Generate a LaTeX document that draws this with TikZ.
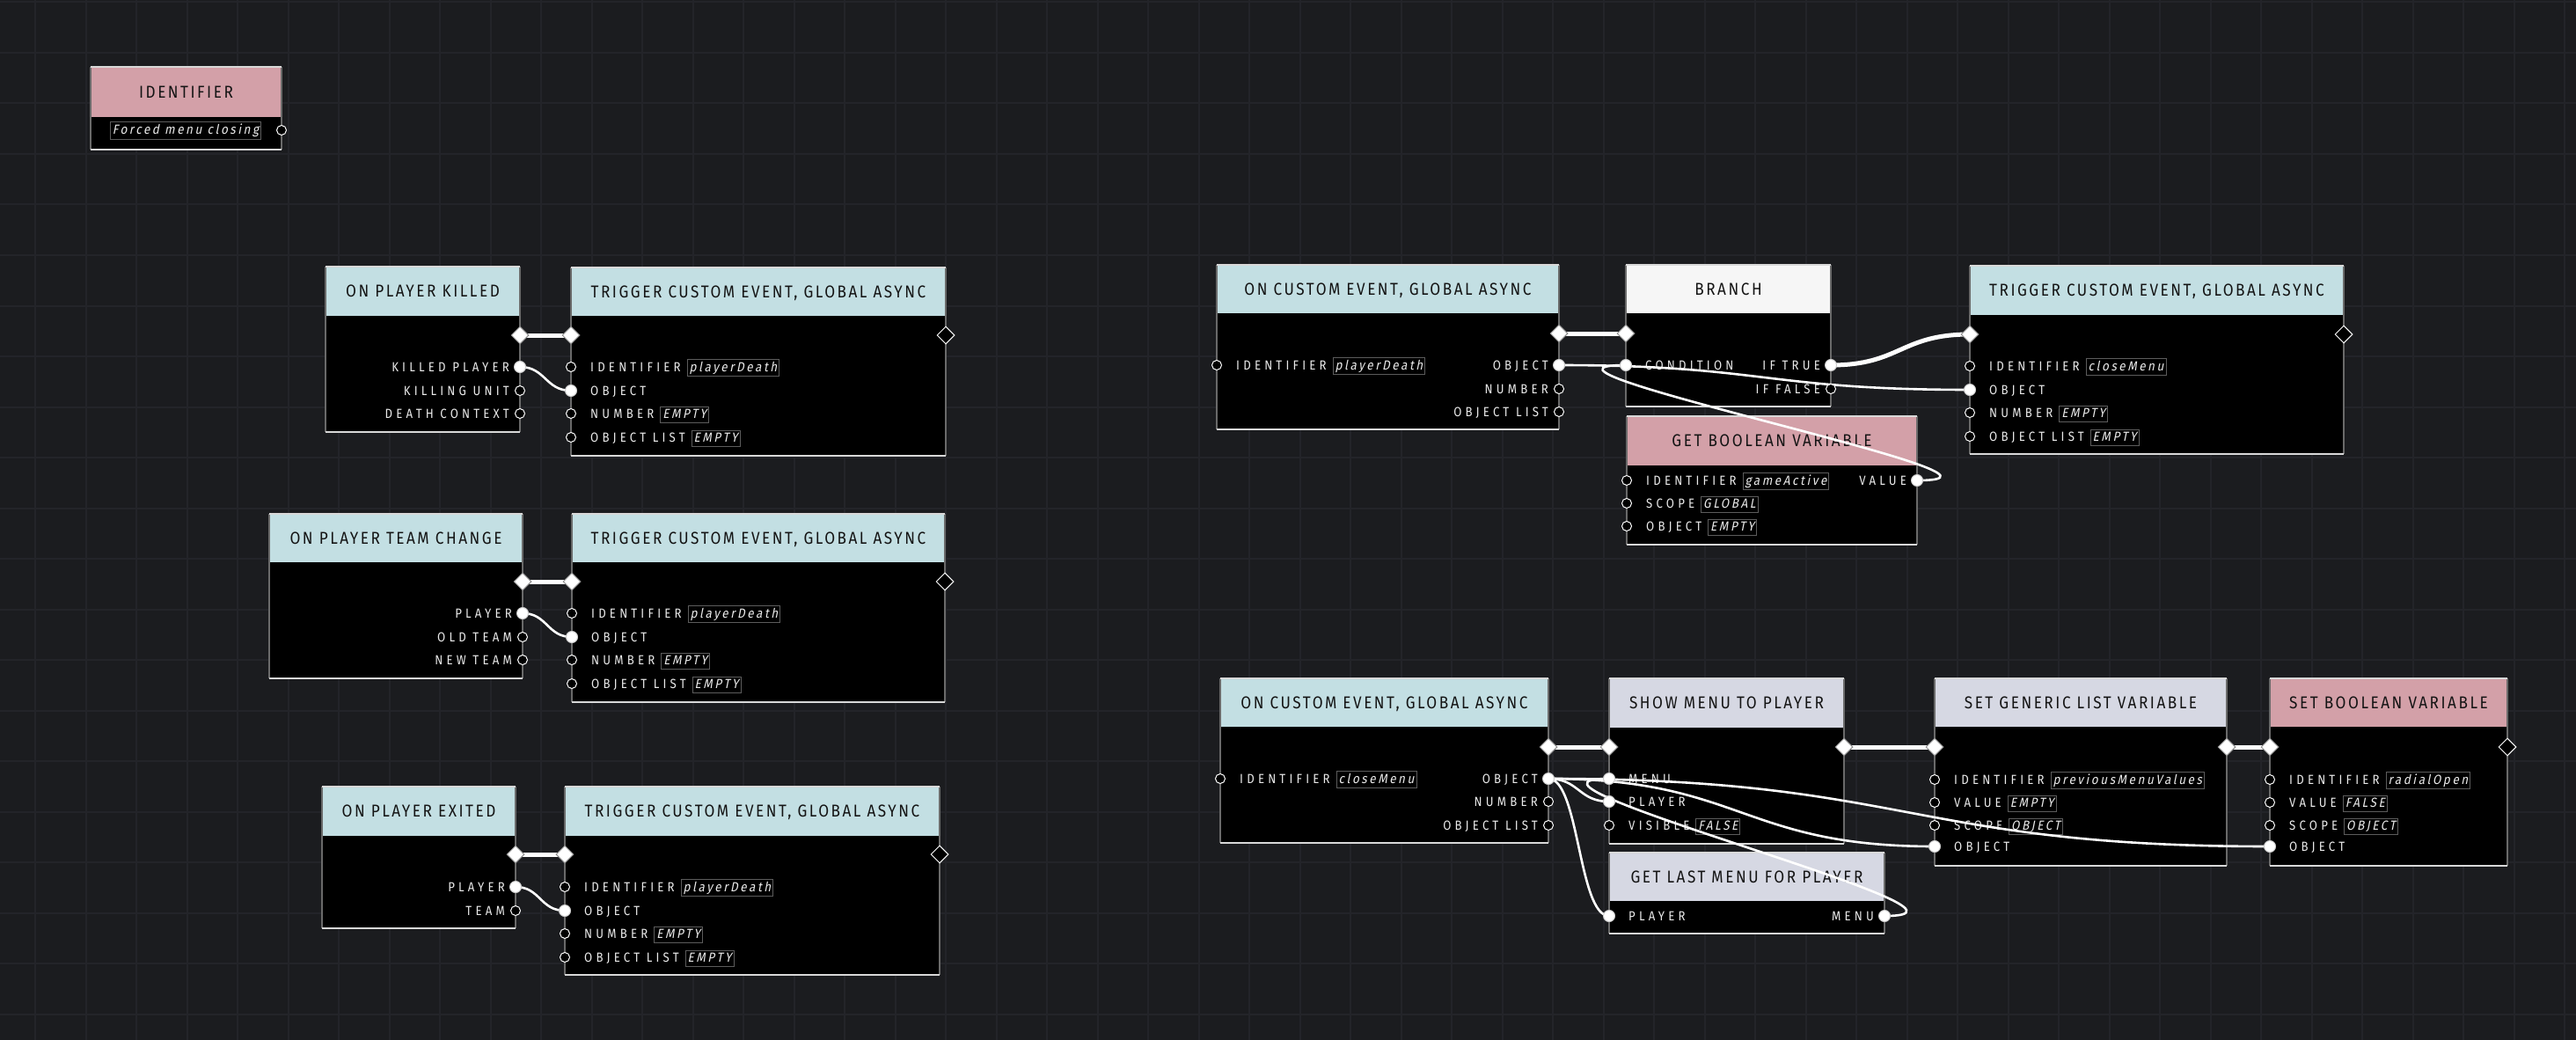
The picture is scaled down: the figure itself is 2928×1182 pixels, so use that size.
\documentclass[tikz,border=0pt]{standalone}
\usepackage{fontspec}
\usetikzlibrary{shapes.geometric}
\newfontfamily\titlefont{Fira Sans}[FakeStretch=0.88, LetterSpace=13]
\newfontfamily\labelfont{Fira Sans}[FakeStretch=0.88, LetterSpace=28]
\newfontfamily\valfont{Fira Sans}[FakeStretch=0.9, LetterSpace=17, FakeSlant=0.2]
\definecolor{bgc}{HTML}{1B1C1F}
\definecolor{gridc}{HTML}{232429}
\definecolor{blueh}{HTML}{C3DFE3}
\definecolor{pinkh}{HTML}{D3A0A8}
\definecolor{lavh}{HTML}{D6D8E3}
\definecolor{whiteh}{HTML}{F6F6F6}
\definecolor{titlec}{HTML}{141414}
\definecolor{labelc}{HTML}{EAEAEA}
\definecolor{valc}{HTML}{5C5C5C}
\definecolor{sidec}{HTML}{6A6A6A}
\definecolor{edgec}{HTML}{D8D8D8}
\pgfdeclarelayer{bg}
\pgfdeclarelayer{wires}
\pgfsetlayers{bg,wires,main}
\newcommand\valtext[1]{{\setlength\fboxsep{2pt}\setlength\fboxrule{1pt}\fcolorbox{valc}{black}{\valfont\rule[-2.5pt]{0pt}{12pt}#1}}}
\newcommand\valbx[1]{\kern7pt\valtext{#1}}
\newcommand\gbox[8]{%
  \begin{pgfonlayer}{bg}
  \fill[black] (#2,#3) rectangle (#4,#5);
  \fill[#7] (#2,#3) rectangle (#4,#6);
  \draw[sidel] (#2,#3) -- (#2,#5) (#4,#3) -- (#4,#5);
  \draw[edgel] (#2,#3) -- (#4,#3);
  \draw[edgel, line width=2pt] (#2,#5) -- (#4,#5);
  \node[titlet, anchor=base] (#1) at ({(#2+#4)/2},{(#3+#6)/2+6.8}) {#8};
  \end{pgfonlayer}}
\newcommand\pin[5]{%
  \node[#4] (#1) at (#2,#3) {};
  \begin{pgfonlayer}{bg}\node[plabel, anchor=base west] (#1-l) at ({#2+22},{#3+5.2}) {#5};\end{pgfonlayer}}
\newcommand\pout[5]{%
  \node[#4] (#1) at (#2,#3) {};
  \begin{pgfonlayer}{bg}\node[plabel, anchor=base east] (#1-l) at ({#2-12},{#3+5.2}) {#5};\end{pgfonlayer}}
\begin{document}
\begin{tikzpicture}[x=1pt,y=-1pt,
  sidel/.style={draw=sidec, line width=1.5pt},
  edgel/.style={draw=edgec, line width=1.5pt},
  titlet/.style={text=titlec, font=\titlefont\fontsize{19.5}{21}\selectfont, inner sep=0pt},
  plabel/.style={text=labelc, font=\labelfont\fontsize{15}{17}\selectfont, inner sep=0pt},
  hport/.style={circle, draw=white, line width=1pt, fill=black, minimum size=11pt, inner sep=0pt},
  fport/.style={circle, draw=white!80!black, line width=1pt, fill=white, minimum size=13pt, inner sep=0pt},
  xf/.style={diamond, aspect=1, draw=white!55!black, line width=1pt, fill=white, minimum size=20pt, inner sep=0pt},
  xh/.style={diamond, aspect=1, draw=white, line width=1pt, fill=black, minimum size=20pt, inner sep=0pt},
  dw/.style={draw=white, line width=2.6pt},
  xw/.style={draw=white, line width=5pt}]
\useasboundingbox (0,0) rectangle (2928,1182);
\begin{pgfonlayer}{bg}
\fill[bgc] (0,0) rectangle (2928,1182);
\foreach \i in {0,...,50} \draw[gridc, line width=2pt] ({40+57.5*\i},0) -- ({40+57.5*\i},1182);
\foreach \j in {0,...,20} \draw[gridc, line width=2pt] (0,{2.5+57.5*\j}) -- (2928,{2.5+57.5*\j});
\end{pgfonlayer}

% identifier
\gbox{idn}{103}{76}{320}{170}{133}{pinkh}{IDENTIFIER}
\begin{pgfonlayer}{bg}\node[plabel, anchor=base] (idn-v) at (211,153) {\valtext{Forced menu closing}};\end{pgfonlayer}
\node[hport] (idn-o) at (320,148) {};

% on player killed
\gbox{k}{370}{303}{591}{491}{359}{blueh}{ON PLAYER KILLED}
\node[xf] (k-x) at (591,381) {};
\pout{k-p1}{591}{417}{fport}{KILLED PLAYER}
\pout{k-p2}{591}{444}{hport}{KILLING UNIT}
\pout{k-p3}{591}{470}{hport}{DEATH CONTEXT}
\gbox{t1}{649}{304}{1075}{518}{359}{blueh}{TRIGGER CUSTOM EVENT, GLOBAL ASYNC}
\node[xf] (t1-x) at (649,381) {};
\node[xh] (t1-y) at (1075,381) {};
\pin{t1-p1}{649}{417}{hport}{IDENTIFIER\valbx{playerDeath}}
\pin{t1-p2}{649}{444}{fport}{OBJECT}
\pin{t1-p3}{649}{470}{hport}{NUMBER\valbx{EMPTY}}
\pin{t1-p4}{649}{497}{hport}{OBJECT LIST\valbx{EMPTY}}

% team change
\gbox{tc}{306}{584}{594}{771}{639}{blueh}{ON PLAYER TEAM CHANGE}
\node[xf] (tc-x) at (594,661) {};
\pout{tc-p1}{594}{697}{fport}{PLAYER}
\pout{tc-p2}{594}{724}{hport}{OLD TEAM}
\pout{tc-p3}{594}{750}{hport}{NEW TEAM}
\gbox{t2}{650}{584}{1074}{798}{639}{blueh}{TRIGGER CUSTOM EVENT, GLOBAL ASYNC}
\node[xf] (t2-x) at (650,661) {};
\node[xh] (t2-y) at (1074,661) {};
\pin{t2-p1}{650}{697}{hport}{IDENTIFIER\valbx{playerDeath}}
\pin{t2-p2}{650}{724}{fport}{OBJECT}
\pin{t2-p3}{650}{750}{hport}{NUMBER\valbx{EMPTY}}
\pin{t2-p4}{650}{777}{hport}{OBJECT LIST\valbx{EMPTY}}

% exited
\gbox{ex}{366}{894}{586}{1055}{950}{blueh}{ON PLAYER EXITED}
\node[xf] (ex-x) at (586,971) {};
\pout{ex-p1}{586}{1008}{fport}{PLAYER}
\pout{ex-p2}{586}{1035}{hport}{TEAM}
\gbox{t3}{642}{894}{1068}{1108}{950}{blueh}{TRIGGER CUSTOM EVENT, GLOBAL ASYNC}
\node[xf] (t3-x) at (642,971) {};
\node[xh] (t3-y) at (1068,971) {};
\pin{t3-p1}{642}{1008}{hport}{IDENTIFIER\valbx{playerDeath}}
\pin{t3-p2}{642}{1035}{fport}{OBJECT}
\pin{t3-p3}{642}{1061}{hport}{NUMBER\valbx{EMPTY}}
\pin{t3-p4}{642}{1088}{hport}{OBJECT LIST\valbx{EMPTY}}

% on custom event 1
\gbox{oc1}{1383}{301}{1772}{488}{356}{blueh}{ON CUSTOM EVENT, GLOBAL ASYNC}
\node[xf] (oc1-x) at (1772,379) {};
\pin{oc1-i}{1383}{415}{hport}{IDENTIFIER\valbx{playerDeath}}
\pout{oc1-p1}{1772}{415}{fport}{OBJECT}
\pout{oc1-p2}{1772}{442}{hport}{NUMBER}
\pout{oc1-p3}{1772}{468}{hport}{OBJECT LIST}
\gbox{br}{1848}{301}{2081}{462}{356}{whiteh}{BRANCH}
\node[xf] (br-x) at (1848,379) {};
\pin{br-c}{1848}{415}{fport}{CONDITION}
\pout{br-t}{2081}{415}{fport}{IF TRUE}
\pout{br-f}{2081}{442}{hport}{IF FALSE}
\gbox{gb}{1849}{473}{2179}{619}{529}{pinkh}{GET BOOLEAN VARIABLE}
\pin{gb-p1}{1849}{546}{hport}{IDENTIFIER\valbx{gameActive}}
\pin{gb-p2}{1849}{572}{hport}{SCOPE\valbx{GLOBAL}}
\pin{gb-p3}{1849}{598}{hport}{OBJECT\valbx{EMPTY}}
\pout{gb-v}{2179}{546}{fport}{VALUE}
\gbox{t4}{2239}{302}{2664}{516}{358}{blueh}{TRIGGER CUSTOM EVENT, GLOBAL ASYNC}
\node[xf] (t4-x) at (2239,380) {};
\node[xh] (t4-y) at (2664,380) {};
\pin{t4-p1}{2239}{416}{hport}{IDENTIFIER\valbx{closeMenu}}
\pin{t4-p2}{2239}{443}{fport}{OBJECT}
\pin{t4-p3}{2239}{469}{hport}{NUMBER\valbx{EMPTY}}
\pin{t4-p4}{2239}{496}{hport}{OBJECT LIST\valbx{EMPTY}}

% on custom event 2
\gbox{oc2}{1387}{771}{1760}{958}{826}{blueh}{ON CUSTOM EVENT, GLOBAL ASYNC}
\node[xf] (oc2-x) at (1760,849) {};
\pin{oc2-i}{1387}{885}{hport}{IDENTIFIER\valbx{closeMenu}}
\pout{oc2-p1}{1760}{885}{fport}{OBJECT}
\pout{oc2-p2}{1760}{911}{hport}{NUMBER}
\pout{oc2-p3}{1760}{938}{hport}{OBJECT LIST}
\gbox{sm}{1829}{771}{2096}{959}{827}{lavh}{SHOW MENU TO PLAYER}
\node[xf] (sm-x) at (1829,849) {};
\node[xf] (sm-y) at (2096,849) {};
\pin{sm-m}{1829}{885}{fport}{MENU}
\pin{sm-p}{1829}{911}{fport}{PLAYER}
\pin{sm-v}{1829}{938}{hport}{VISIBLE\valbx{FALSE}}
\gbox{gl}{1829}{969}{2142}{1061}{1024}{lavh}{GET LAST MENU FOR PLAYER}
\pin{gl-p}{1829}{1041}{fport}{PLAYER}
\pout{gl-m}{2142}{1041}{fport}{MENU}
\gbox{sg}{2199}{771}{2531}{984}{826}{lavh}{SET GENERIC LIST VARIABLE}
\node[xf] (sg-x) at (2199,849) {};
\node[xf] (sg-y) at (2531,849) {};
\pin{sg-p1}{2199}{886}{hport}{IDENTIFIER\valbx{previousMenuValues}}
\pin{sg-p2}{2199}{912}{hport}{VALUE\valbx{EMPTY}}
\pin{sg-p3}{2199}{938}{hport}{SCOPE\valbx{OBJECT}}
\pin{sg-p4}{2199}{962}{fport}{OBJECT}
\gbox{sb}{2580}{771}{2850}{984}{826}{pinkh}{SET BOOLEAN VARIABLE}
\node[xf] (sb-x) at (2580,849) {};
\node[xh] (sb-y) at (2850,849) {};
\pin{sb-p1}{2580}{886}{hport}{IDENTIFIER\valbx{radialOpen}}
\pin{sb-p2}{2580}{912}{hport}{VALUE\valbx{FALSE}}
\pin{sb-p3}{2580}{938}{hport}{SCOPE\valbx{OBJECT}}
\pin{sb-p4}{2580}{962}{fport}{OBJECT}

\begin{pgfonlayer}{wires}
\draw[xw] (k-x.center) -- (t1-x.center);
\draw[xw] (tc-x.center) -- (t2-x.center);
\draw[xw] (ex-x.center) -- (t3-x.center);
\draw[xw] (oc1-x.center) -- (br-x.center);
\draw[xw] (oc2-x.center) -- (sm-x.center);
\draw[xw] (sm-y.center) -- (sg-x.center);
\draw[xw] (sg-y.center) -- (sb-x.center);
\draw[xw] (br-t.center) .. controls +(79,0) and +(-79,0) .. (t4-x.center);
\draw[dw] (k-p1.center) .. controls +(29,0) and +(-29,0) .. (t1-p2.center);
\draw[dw] (tc-p1.center) .. controls +(28,0) and +(-28,0) .. (t2-p2.center);
\draw[dw] (ex-p1.center) .. controls +(28,0) and +(-28,0) .. (t3-p2.center);
\draw[dw] (oc1-p1.center) .. controls +(233,0) and +(-233,0) .. (t4-p2.center);
\draw[dw] (gb-v.center) .. controls +(165,0) and +(-165,0) .. (br-c.center);
\draw[dw] (oc2-p1.center) .. controls +(35,0) and +(-35,0) .. (sm-p.center);
\draw[dw] (oc2-p1.center) .. controls +(35,0) and +(-35,0) .. (gl-p.center);
\draw[dw] (oc2-p1.center) .. controls +(220,0) and +(-220,0) .. (sg-p4.center);
\draw[dw] (oc2-p1.center) .. controls +(410,0) and +(-410,0) .. (sb-p4.center);
\draw[dw] (gl-m.center) .. controls +(156,0) and +(-156,0) .. (sm-m.center);
\end{pgfonlayer}
\end{tikzpicture}
\end{document}
